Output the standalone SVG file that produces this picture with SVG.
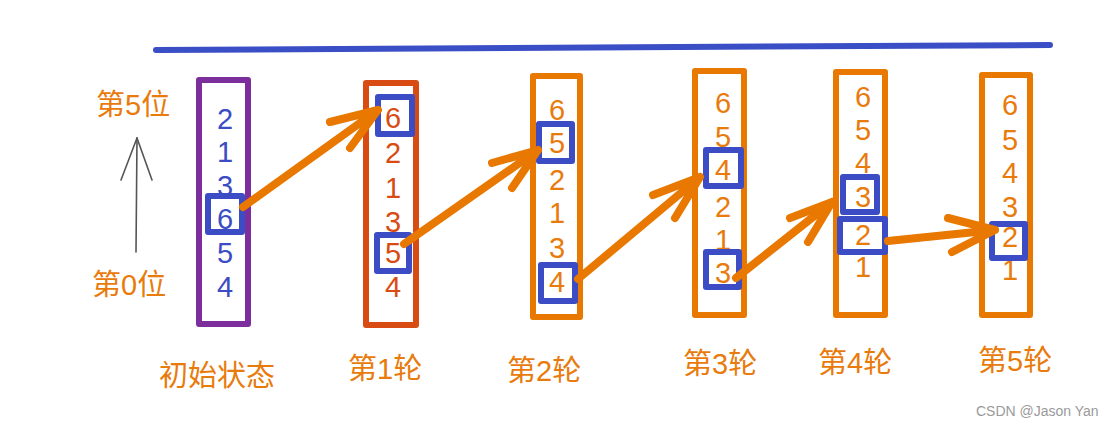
<svg xmlns="http://www.w3.org/2000/svg" width="1113" height="426" viewBox="0 0 1113 426">
<defs>
<style>
.col{fill:none;stroke-width:6;stroke-linejoin:round;stroke-linecap:round}
.hl{fill:none;stroke:#3b4cc4;stroke-width:6;stroke-linejoin:round;stroke-linecap:round}
.d{font-family:"Liberation Sans",Arial,sans-serif;font-size:29px;text-anchor:middle}
.lbl{font-family:"Liberation Sans","Noto Sans CJK SC",sans-serif;font-size:29px;fill:#e87b0c}
.arr{fill:none;stroke:#e87800;stroke-width:8;stroke-linecap:round;stroke-linejoin:round}
.blue{fill:#3b4cc4}.red{fill:#d84c14}.org{fill:#e87b0c}
</style>
</defs>
<rect width="1113" height="426" fill="#ffffff"/>
<line x1="156" y1="50" x2="1050" y2="45" stroke="#3a4ec6" stroke-width="6" stroke-linecap="round"/>
<g id="axis">
<text class="lbl" x="96" y="115">第5位</text>
<text class="lbl" x="92" y="295">第0位</text>
<g fill="none" stroke="#555" stroke-width="1.6" stroke-linecap="round">
<line x1="136" y1="252" x2="137" y2="138"/>
<line x1="137" y1="138" x2="121" y2="180"/>
<line x1="137" y1="138" x2="152" y2="180"/>
</g>
</g>
<g id="col0">
<rect class="col" x="199" y="80" width="49" height="244" stroke="#7b2e9c"/>
<g class="d blue">
<text x="225" y="129">2</text><text x="225" y="162">1</text><text x="225" y="196">3</text><text x="225" y="229">6</text><text x="225" y="263">5</text><text x="225" y="297">4</text>
</g>
<rect class="hl" x="208" y="196" width="34" height="36"/>
<text class="lbl" x="159" y="386">初始状态</text>
</g>
<g id="col1">
<rect class="col" x="366" y="83" width="50" height="242" stroke="#d84c14"/>
<g class="d red">
<text x="393" y="128">6</text><text x="393" y="163">2</text><text x="393" y="198">1</text><text x="393" y="232">3</text><text x="393" y="263">5</text><text x="393" y="297">4</text>
</g>
<rect class="hl" x="378" y="97" width="34" height="37"/>
<rect class="hl" x="377" y="235" width="32" height="36"/>
<text class="lbl" x="348" y="379">第1轮</text>
</g>
<g id="col2">
<rect class="col" x="533" y="76" width="47" height="241" stroke="#e87800"/>
<g class="d org">
<text x="557" y="120">6</text><text x="557" y="153">5</text><text x="557" y="190">2</text><text x="557" y="223">1</text><text x="557" y="258">3</text><text x="557" y="292">4</text>
</g>
<rect class="hl" x="539" y="124" width="33" height="37"/>
<rect class="hl" x="541" y="265" width="34" height="36"/>
<text class="lbl" x="507" y="381">第2轮</text>
</g>
<g id="col3">
<rect class="col" x="695" y="71" width="49" height="244" stroke="#e87800"/>
<g class="d org">
<text x="723" y="113">6</text><text x="723" y="147">5</text><text x="723" y="180">4</text><text x="723" y="217">2</text><text x="723" y="250">1</text><text x="723" y="283">3</text>
</g>
<rect class="hl" x="706" y="150" width="35" height="36"/>
<rect class="hl" x="706" y="252" width="33" height="35"/>
<text class="lbl" x="683" y="374">第3轮</text>
</g>
<g id="col4">
<rect class="col" x="836" y="72" width="49" height="243" stroke="#e87800"/>
<g class="d org">
<text x="863" y="107">6</text><text x="863" y="140">5</text><text x="863" y="173">4</text><text x="863" y="207">3</text><text x="863" y="245">2</text><text x="863" y="277">1</text>
</g>
<rect class="hl" x="843" y="177" width="34" height="35"/>
<rect class="hl" x="840" y="219" width="45" height="33"/>
<text class="lbl" x="818" y="373">第4轮</text>
</g>
<g id="col5">
<rect class="col" x="982" y="75" width="48" height="240" stroke="#e87800"/>
<g class="d org">
<text x="1010" y="115">6</text><text x="1010" y="150">5</text><text x="1010" y="183">4</text><text x="1010" y="217">3</text><text x="1010" y="247">2</text><text x="1010" y="280">1</text>
</g>
<rect class="hl" x="992" y="224" width="33" height="34"/>
<text class="lbl" x="978" y="371">第5轮</text>
</g>
<g id="connectors">
<path class="arr" d="M243 207 L378 110 M330 122 L378 110 L350 148"/>
<path class="arr" d="M404 244 L538 150 M492 163 L538 150 L512 188"/>
<path class="arr" d="M578 279 L700 177 M653 195 L700 177 L675 218"/>
<path class="arr" d="M736 278 L832 202 M790 218 L832 202 L808 242"/>
<path class="arr" d="M888 241 L995 230 M948 218 L995 230 L952 252"/>
</g>
<text x="976" y="416" font-family="Liberation Sans,Arial,sans-serif" font-size="14" fill="#9a9a9a">CSDN @Jason Yan</text>
</svg>
